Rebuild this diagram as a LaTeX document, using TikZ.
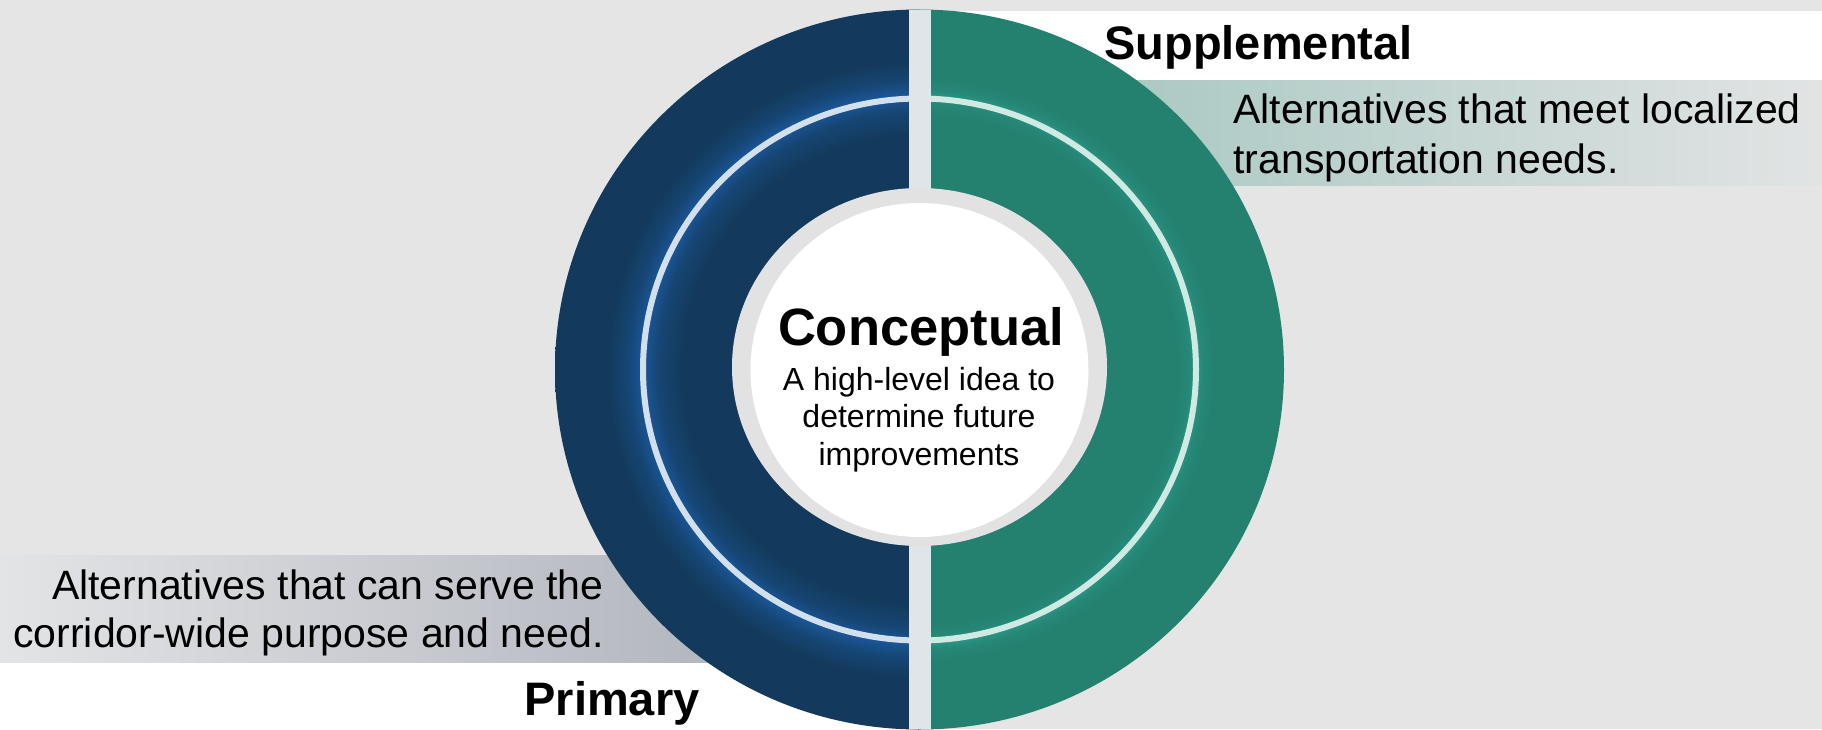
\documentclass[tikz,border=0pt]{standalone}
\usepackage{fontspec}
\setmainfont{Liberation Sans}

\definecolor{bggrey}{HTML}{E5E5E5}
\definecolor{bargrey}{HTML}{E0E5EA}
\definecolor{ringgrey}{HTML}{E2E2E2}
\definecolor{navybase}{HTML}{133A5C}
\definecolor{navyglowmid}{HTML}{164675}
\definecolor{navyglowpeak}{HTML}{1B5799}
\definecolor{navyline}{HTML}{D2E0EE}
\definecolor{tealbase}{HTML}{24806F}
\definecolor{tealglowmid}{HTML}{268878}
\definecolor{tealglowpeak}{HTML}{2A9582}
\definecolor{tealline}{HTML}{CFE9E3}
\definecolor{tealband}{HTML}{A9C8C2}
\definecolor{tealbandend}{HTML}{E2E4E4}
\definecolor{slateband}{HTML}{E3E4E6}
\definecolor{slatebandend}{HTML}{B2B6BE}

% Radial glows along the thin ring (25bp = outer rim of the disc)
\pgfdeclareradialshading{navyglow}{\pgfpointorigin}{%
  color(0bp)=(navybase); color(16.3bp)=(navybase);
  color(18bp)=(navyglowmid); color(18.95bp)=(navyglowpeak);
  color(20bp)=(navyglowmid); color(21.4bp)=(navybase);
  color(50bp)=(navybase)}
\pgfdeclareradialshading{tealglow}{\pgfpointorigin}{%
  color(0bp)=(tealbase); color(17.6bp)=(tealbase);
  color(18.5bp)=(tealglowmid); color(18.95bp)=(tealglowpeak);
  color(19.4bp)=(tealglowmid); color(20.3bp)=(tealbase);
  color(50bp)=(tealbase)}

\tikzset{
  title/.style={inner sep=0pt, font=\bfseries\fontsize{23.5}{28}\selectfont},
  body/.style={inner sep=0pt, font=\fontsize{20.5}{25}\selectfont},
}

\begin{document}
\begin{tikzpicture}[x=0.5pt,y=-0.5pt]
\useasboundingbox (0,0) rectangle (1822,729);
\clip (0,0) rectangle (1822,729);
\fill[bggrey] (0,0) rectangle (1822,729);

% label bands
\fill[white] (919,11) rectangle (1822,80);
\shade[left color=tealband, right color=tealbandend] (1100,80) rectangle (1822,185);
\shade[left color=slateband, right color=slatebandend] (0,555) rectangle (720,663);
\fill[white] (0,663) rectangle (912,729);

% two halves of the disc
\coordinate (c) at (919.5,369.5);
\begin{scope}
  \clip (0,0) rectangle (919.5,729);
  \shade[shading=navyglow] (c) ellipse [x radius=364.5, y radius=360];
  \draw[line width=3pt, navyline] (c) ellipse [x radius=276.5, y radius=271];
\end{scope}
\begin{scope}
  \clip (919.5,0) rectangle (1822,729);
  \shade[shading=tealglow] (c) ellipse [x radius=364.5, y radius=360];
  \draw[line width=3pt, tealline] (c) ellipse [x radius=276.5, y radius=271];
\end{scope}

% dividing bar
\fill[bargrey] (909,10) rectangle (931,729);

% centre
\fill[ringgrey] (919.5,367) ellipse [x radius=187.5, y radius=179];
\fill[white] (919.5,370) ellipse [x radius=169, y radius=167];

% texts (multi-line nodes are placed by the baseline of their last line)
\node[title, anchor=base west] (supTitle) at (1104,59) {Supplemental};
\node[body, anchor=base west, align=left] (supText) at (1233,173.3)
  {Alternatives that meet localized\\transportation needs.};
\node[body, anchor=base east, align=right, font=\fontsize{20.5}{24}\selectfont] (priText) at (604,647)
  {Alternatives that can serve the\\corridor-wide purpose and need.};
\node[title, anchor=base west] (priTitle) at (524,715) {Primary};
\node[inner sep=0pt, anchor=base, font=\bfseries\fontsize{26.25}{30}\selectfont] (conTitle) at (921,345) {Conceptual};
\node[inner sep=0pt, anchor=base, align=center, font=\fontsize{16}{18.75}\selectfont] (conText) at (919,465)
  {A high-level idea to\\determine future\\improvements};
\end{tikzpicture}
\end{document}
